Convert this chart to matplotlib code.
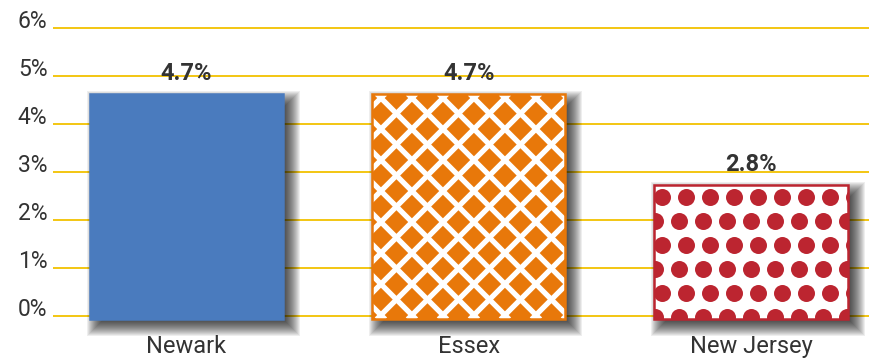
import matplotlib
matplotlib.use('Agg')
import matplotlib.pyplot as plt
import matplotlib.transforms as mtransforms
from matplotlib.patches import Rectangle
from matplotlib.collections import LineCollection
import numpy as np

# data
regions = ['Newark', 'Essex', 'New Jersey']
rates = [4.7, 4.7, 2.8]
rate_labels = ['4.7%', '4.7%', '2.8%']
y_ticks = [0, 1, 2, 3, 4, 5, 6]
y_tick_labels = ['0%', '1%', '2%', '3%', '4%', '5%', '6%']

BLUE = '#4a7bbe'
ORANGE = '#e8780a'
RED = '#bc2530'
GOLD = '#f2c200'
TEXT = '#333333'
BAR_BASE = -0.07  # bars sit a hair below the 0% line in the original

plt.rcParams['font.family'] = ['Roboto', 'DejaVu Sans']

fig = plt.figure(figsize=(8.69, 3.59), dpi=100)
ax = fig.add_axes([0.061, 0.0797, 0.939, 0.8691])
ax.set_xlim(-0.473, 2.418)
ax.set_ylim(-0.3, 6.2)
ident = mtransforms.IdentityTransform()

bars = ax.bar(range(len(regions)), rates, width=0.684, bottom=BAR_BASE,
              color=[BLUE, ORANGE, 'white'], linewidth=0, zorder=3, clip_on=False)

# soft drop shadow behind each bar (pixel space)
for b in bars:
    bb = b.get_window_extent()
    for g in np.linspace(-5, 10, 16):
        ax.add_patch(Rectangle((bb.x0 + 7 - g, bb.y0 - 7 - g), bb.width + 2 * g, bb.height + 2 * g,
                               transform=ident, fc='black', alpha=0.065, lw=0, zorder=2, clip_on=False))

# white diagonal lattice on the Essex bar
bb = bars[1].get_window_extent()
step = 31
segs = []
for c in np.arange(-bb.height - step, bb.width + step, step):
    segs.append([(bb.x0 + c + 13, bb.y0), (bb.x0 + c + 13 + bb.height, bb.y1)])
    segs.append([(bb.x0 + c + 13, bb.y1), (bb.x0 + c + 13 + bb.height, bb.y0)])
lc = LineCollection(segs, colors='white', linewidths=3.8, transform=ident, zorder=4)
ax.add_collection(lc)
lc.set_clip_path(bars[1])  # after add_collection, otherwise the axes patch wins

# red polka dots on the New Jersey bar
bb = bars[2].get_window_extent()
sp = 24
xs, ys = [], []
for row, yy in enumerate(np.arange(bb.y1 - 12, bb.y0 - sp, -sp)):
    shift = 0 if row % 2 == 0 else -7
    for xx in np.arange(bb.x0 + 8 + shift, bb.x1 + sp, sp):
        xs.append(xx)
        ys.append(yy)
dots = ax.scatter(xs, ys, s=(17 * 0.72) ** 2, c=RED, linewidths=0, transform=ident, zorder=4)
dots.set_clip_path(bars[2])

# crisp outlines on top of the patterns
for b, ec in zip(bars, [BLUE, ORANGE, RED]):
    ax.add_patch(Rectangle(b.get_xy(), b.get_width(), b.get_height(), fill=False,
                           ec=ec, lw=1.8, zorder=5, clip_on=False))

for i, (r, lab) in enumerate(zip(rates, rate_labels)):
    ax.annotate(lab, (i, r + BAR_BASE), xytext=(0, 6.5), textcoords='offset points',
                ha='center', va='bottom', fontsize=17, fontweight='bold', color=TEXT)

ax.set_xlim(-0.473, 2.418)
ax.set_ylim(-0.3, 6.2)
ax.set_yticks(y_ticks, y_tick_labels)
ax.set_xticks(range(len(regions)), regions)
ax.grid(axis='y', color=GOLD, linewidth=1.3)
ax.grid(axis='x', visible=False)
ax.set_axisbelow(True)
ax.tick_params(length=0, colors=TEXT)
ax.tick_params(axis='y', labelsize=16.5, pad=4)
ax.tick_params(axis='x', labelsize=17, pad=3)
for t in ax.get_yticklabels():
    t.set_verticalalignment('baseline')
for s in ax.spines.values():
    s.set_visible(False)

plt.savefig('out.png', dpi=100)
